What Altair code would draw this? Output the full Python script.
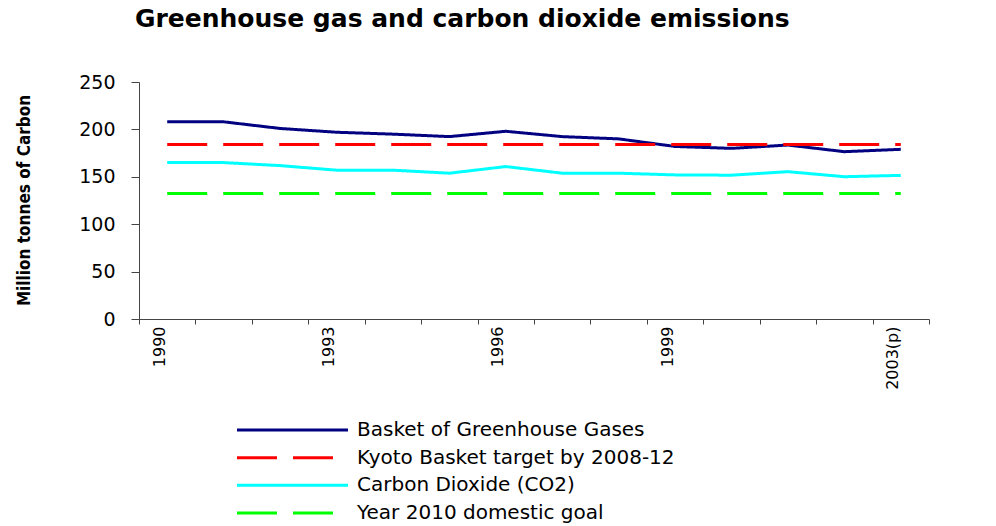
import altair as alt
import pandas as pd

years = ["1990", "1991", "1992", "1993", "1994", "1995", "1996", "1997",
         "1998", "1999", "2000", "2001", "2002", "2003(p)"]
shown_labels = ["1990", "1993", "1996", "1999", "2003(p)"]

series = ["Basket of Greenhouse Gases", "Kyoto Basket target by 2008-12",
          "Carbon Dioxide (CO2)", "Year 2010 domestic goal"]
colors = ["#000080", "#FF0000", "#00FFFF", "#00FF00"]
dashes = [[1, 0], [40, 16], [1, 0], [40, 16]]

basket = [208, 208, 201, 197, 195, 192.4, 198, 192.4, 190, 182, 180, 183.5, 176.5, 179]
kyoto = [184, 184, 184, 184, 184, 184, 184, 184, 184, 184, 184, 184, 184, 184]
co2 = [165, 165, 161.8, 157, 157, 153.8, 160.8, 153.8, 153.8, 152, 151.7, 155.4, 150.1, 151.5]
goal = [132.5, 132.5, 132.5, 132.5, 132.5, 132.5, 132.5, 132.5, 132.5, 132.5, 132.5, 132.5, 132.5, 132.5]

values_by_series = [basket, kyoto, co2, goal]
rows = []
for name, vals in zip(series, values_by_series):
    for yr, v in zip(years, vals):
        rows.append({"year": yr, "series": name, "value": v})
df = pd.DataFrame(rows)
legend_df = pd.DataFrame({"series": series})

FONT = "DejaVu Sans"
NARROW = "'Liberation Sans Narrow', 'DejaVu Sans Condensed', sans-serif"

color_enc = alt.Color("series:N", scale=alt.Scale(domain=series, range=colors), legend=None)
dash_enc = alt.StrokeDash("series:N", scale=alt.Scale(domain=series, range=dashes), legend=None)

label_test = "indexof(" + str(shown_labels) + ", datum.value) >= 0 ? datum.label : ''"

lines = alt.Chart(df).mark_line(strokeWidth=3, strokeCap="butt").encode(
    x=alt.X("year:O", sort=years,
            scale=alt.Scale(type="band", domain=years, paddingInner=0, paddingOuter=0),
            axis=alt.Axis(title=None, tickBand="extent", labelAngle=270, labelAlign="right",
                          labelBaseline="middle", labelFont=FONT, labelFontSize=16,
                          labelColor="black", labelPadding=2, labelOffset=-8,
                          tickSize=5, tickColor="#444", domainColor="#444",
                          labelExpr=label_test, grid=False, labelOverlap=False)),
    y=alt.Y("value:Q", scale=alt.Scale(domain=[0, 250], nice=False),
            axis=alt.Axis(values=[0, 50, 100, 150, 200, 250], title="Million tonnes of Carbon",
                          titleFont=NARROW, titleFontSize=17, titleFontWeight="bold",
                          titleColor="black", titleAngle=270, titleX=-110, titleY=118,
                          titleBaseline="alphabetic", titleAlign="center",
                          labelFont=FONT, labelFontSize=19, labelColor="black",
                          labelPadding=16, tickSize=8, tickColor="#444",
                          domainColor="#444", grid=False)),
    color=color_enc,
    strokeDash=dash_enc,
)

legend_y = alt.Y("series:N", sort=series,
                 scale=alt.Scale(type="point", domain=series, range=[348, 431], padding=0),
                 axis=None)

legend_rules = alt.Chart(legend_df).mark_rule(strokeWidth=3, strokeCap="butt").encode(
    x=alt.value(98), x2=alt.value(209),
    y=legend_y,
    color=color_enc,
    strokeDash=dash_enc,
)

legend_text = alt.Chart(legend_df).mark_text(
    align="left", baseline="middle", font=FONT, fontSize=20, color="black"
).encode(
    x=alt.value(218),
    y=legend_y,
    text="series:N",
)

chart = alt.layer(lines, legend_rules, legend_text).resolve_scale(
    y="independent"
).properties(
    width=790, height=237,
    title=alt.TitleParams("Greenhouse gas and carbon dioxide emissions", anchor="start",
                          frame="group", font=FONT, fontSize=25, fontWeight="bold",
                          color="black", dx=-4, offset=41),
    autosize=alt.AutoSizeParams(type="none"),
    padding={"left": 139, "top": 82, "right": 67, "bottom": 207},
    background="white",
).configure_view(stroke=None)

chart.save("out.html", embed_options={"renderer": "svg", "actions": False})
